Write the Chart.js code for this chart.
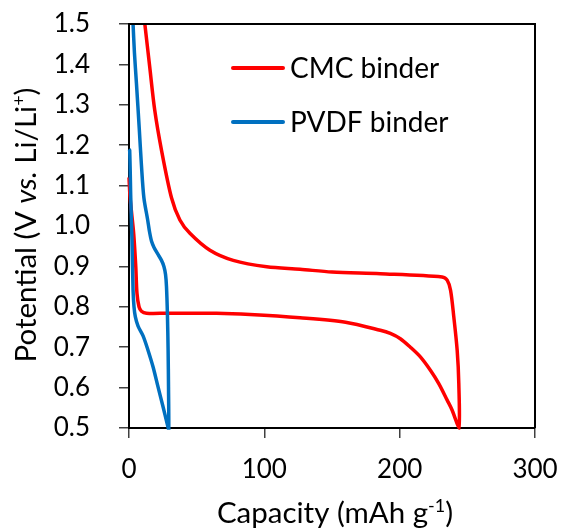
<!DOCTYPE html>
<html>
<head>
<meta charset="utf-8">
<script src="https://cdn.jsdelivr.net/npm/chart.js@4.4.0/dist/chart.umd.min.js"></script>
<style>
body { margin: 0; background: #fff; }
#wrap { width: 561px; height: 532px; }
</style>
</head>
<body>
<div id="wrap"><canvas id="dia" width="561" height="532"></canvas></div>
<script>
// ---- data ----
const xTicks = [0, 100, 200, 300];
const yTicks = [0.5, 0.6, 0.7, 0.8, 0.9, 1.0, 1.1, 1.2, 1.3, 1.4, 1.5];

// CMC binder : lower branch then back along the upper branch
const cmcCapacity = [0, 0.8, 2, 3.5, 5, 5.9, 7.4, 9.2, 12.9, 27.7, 64.7, 89.4, 126.4, 160, 185.7, 193.1, 200.5, 207.9, 215.3, 222.7, 228.9, 235.1, 238.8, 243.7,
                     243.7, 242.5, 240, 237.6, 235.1, 231.4, 185.7, 150, 126.4, 101.8, 77, 59.8, 45, 37.6, 31.4, 24, 19, 15.3, 11.7];
const cmcPotential = [1.12, 1.07, 1.03, 0.98, 0.9, 0.833, 0.8, 0.789, 0.784, 0.784, 0.784, 0.781, 0.773, 0.762, 0.742, 0.734, 0.721, 0.70, 0.676, 0.643, 0.61, 0.569, 0.544, 0.5,
                      0.61, 0.692, 0.775, 0.841, 0.866, 0.874, 0.882, 0.886, 0.893, 0.899, 0.915, 0.94, 0.982, 1.015, 1.07, 1.188, 1.287, 1.394, 1.5];

// PVDF binder
const pvdfCapacity = [0, 0.5, 1.3, 2.2, 3, 3.7, 4.7, 6.7, 10.4, 14.1, 17.8, 21.5, 25.2, 29,
                      29.4, 29.2, 28.9, 28.4, 27.7, 27, 25.8, 24, 21, 18.5, 16.6, 15.2, 13.8, 11, 9.2, 7.6, 5.5, 4, 3];
const pvdfPotential = [1.19, 1.188, 1.07, 0.965, 0.841, 0.8, 0.775, 0.752, 0.728, 0.692, 0.651, 0.601, 0.552, 0.5,
                       0.5, 0.6, 0.692, 0.78, 0.85, 0.88, 0.9, 0.915, 0.932, 0.947, 0.963, 0.985, 1.015, 1.07, 1.15, 1.24, 1.353, 1.43, 1.5];

const labels = ["CMC binder", "PVDF binder"];
const colors = ["#ff0000", "#0070c0"];

const FONT = 'Lato, "Open Sans", sans-serif';

function toPoints(xs, ys) {
    return xs.map((x, i) => ({ x: x, y: ys[i] }));
}

// draws a string made of pieces : normal / italic / superscript
function richText(ctx, parts, x, y, size, align) {
    const fontOf = p => (p.s === "i" ? "italic " : "") + (p.s === "sup" ? Math.round(size * 0.62) : size) + "px " + FONT;
    let total = 0;
    parts.forEach(p => { ctx.font = fontOf(p); p.w = ctx.measureText(p.t).width; total += p.w; });
    let cx = align === "center" ? x - total / 2 : x;
    ctx.textAlign = "left";
    ctx.textBaseline = "alphabetic";
    parts.forEach(p => {
        ctx.font = fontOf(p);
        ctx.fillText(p.t, cx, p.s === "sup" ? y - size * 0.38 : y);
        cx += p.w;
    });
}

const decor = {
    id: "decor",
    afterDraw(chart) {
        const ctx = chart.ctx;
        const a = chart.chartArea;
        ctx.save();
        // top and right side of the box
        ctx.strokeStyle = "#000";
        ctx.lineWidth = 2;
        ctx.beginPath();
        ctx.moveTo(a.left, a.top);
        ctx.lineTo(a.right, a.top);
        ctx.lineTo(a.right, a.bottom);
        ctx.stroke();

        // legend inside the plot
        ctx.fillStyle = "#000";
        ctx.lineCap = "round";
        labels.forEach((lab, i) => {
            const yy = 68 + i * 54;
            ctx.strokeStyle = colors[i];
            ctx.lineWidth = 4;
            ctx.beginPath();
            ctx.moveTo(233, yy);
            ctx.lineTo(283, yy);
            ctx.stroke();
            ctx.font = "28px " + FONT;
            ctx.textAlign = "left";
            ctx.textBaseline = "alphabetic";
            ctx.fillText(lab, 290, yy + 10);
        });

        // axis titles
        richText(ctx, [{ t: "Capacity (mAh g" }, { t: "-1", s: "sup" }, { t: ")" }], 335, 523, 29.5, "center");
        ctx.translate(36, 225);
        ctx.rotate(-Math.PI / 2);
        richText(ctx, [{ t: "Potential (V " }, { t: "vs.", s: "i" }, { t: " Li/Li" }, { t: "+", s: "sup" }, { t: ")" }], 0, 0, 29.5, "center");
        ctx.restore();
    }
};

new Chart(document.getElementById("dia"), {
    type: "scatter",
    data: {
        datasets: [
            {
                label: labels[0],
                data: toPoints(cmcCapacity, cmcPotential),
                showLine: true,
                borderColor: colors[0],
                borderWidth: 3.5,
                pointRadius: 0,
                tension: 0.3,
                order: 1, // PVDF goes on top
                clip: { left: 3, top: 0, right: 0, bottom: 3 }
            },
            {
                label: labels[1],
                data: toPoints(pvdfCapacity, pvdfPotential),
                showLine: true,
                borderColor: colors[1],
                borderWidth: 3.5,
                pointRadius: 0,
                tension: 0.3,
                order: 0,
                clip: { left: 3, top: 0, right: 0, bottom: 3 }
            }
        ]
    },
    options: {
        responsive: false,
        animation: false,
        devicePixelRatio: 1,
        layout: { padding: { left: 0, top: 24, right: 26, bottom: 0 } },
        plugins: { legend: { display: false }, tooltip: { enabled: false } },
        scales: {
            x: {
                type: "linear",
                min: xTicks[0],
                max: xTicks[xTicks.length - 1],
                afterBuildTicks: s => { s.ticks = xTicks.map(v => ({ value: v })); },
                afterFit: s => { s.height = 104; s.paddingLeft = 0; s.paddingRight = 0; },
                border: { display: true, color: "#000", width: 2 },
                grid: { drawOnChartArea: false, drawTicks: true, tickLength: 10, color: "#404040", lineWidth: 1.5 },
                ticks: { color: "#000", font: { family: FONT, size: 26 }, padding: 16, maxRotation: 0 }
            },
            y: {
                type: "linear",
                min: yTicks[0],
                max: yTicks[yTicks.length - 1],
                afterBuildTicks: s => { s.ticks = yTicks.map(v => ({ value: v })); },
                afterFit: s => { s.width = 129; s.paddingTop = 0; s.paddingBottom = 0; },
                border: { display: true, color: "#000", width: 2 },
                grid: { drawOnChartArea: false, drawTicks: true, tickLength: 10, color: "#404040", lineWidth: 1.5 },
                ticks: { color: "#000", font: { family: FONT, size: 26 }, padding: 29, callback: v => v.toFixed(1) }
            }
        }
    },
    plugins: [decor]
});
</script>
</body>
</html>
